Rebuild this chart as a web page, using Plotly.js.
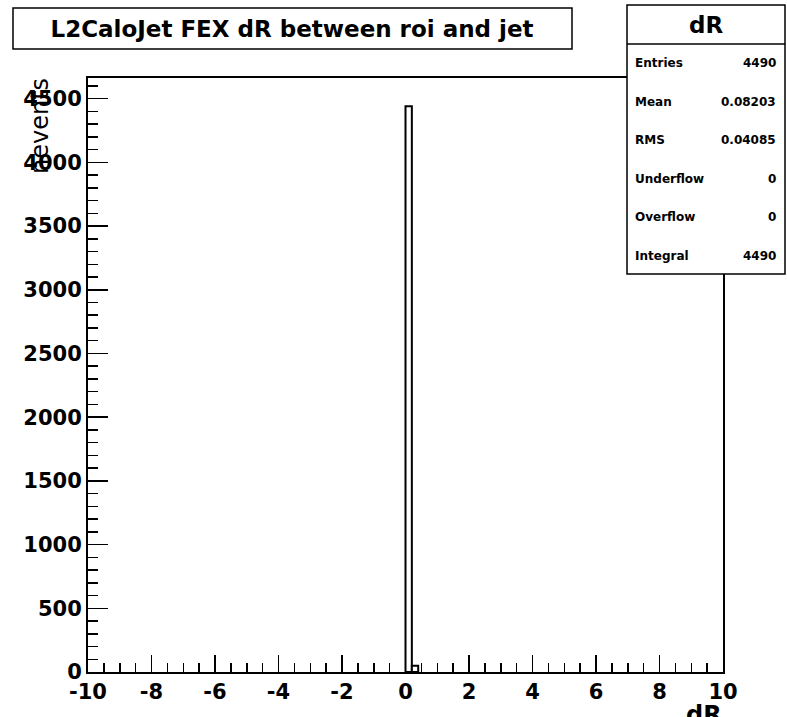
<!DOCTYPE html>
<html>
<head>
<meta charset="utf-8">
<script src="https://cdn.plot.ly/plotly-3.0.1.min.js"></script>
<style>html,body{margin:0;padding:0;background:#fff;}</style>
</head>
<body>
<div id="chart" style="width:787px;height:717px;"></div>
<script>
// ---- data ----
const binCenters = [0.1, 0.3];
const counts = [4440, 50];
const binWidth = 0.2;
const xTickVals = [-10, -8, -6, -4, -2, 0, 2, 4, 6, 8, 10];
const xTickText = ["-10", "-8", "-6", "-4", "-2", "0", "2", "4", "6", "8", "10"];
const histName = "dR";
const chartTitle = "L2CaloJet FEX dR between roi and jet";
const xTitle = "dR";
const yTitle = "nevents";
const statLabels = ["Entries", "Mean", "RMS", "Underflow", "Overflow", "Integral"];
const statValues = ["4490", "0.08203", "0.04085", "0", "0", "4490"];

// ---- geometry helpers (pixel -> paper) ----
const W = 787, H = 717;
const L = 88, R = 723, T = 78, B = 672;
const pw = R - L, ph = B - T;
const px = v => (v - L) / pw;
const py = v => (B - v) / ph;

const bold = {family: "DejaVu Sans", weight: "bold", color: "#000"};

const trace = {
  type: "bar",
  x: binCenters,
  y: counts,
  width: binWidth,
  marker: {color: "#fff", line: {color: "#000", width: 2}},
  hoverinfo: "skip"
};

const annotations = [];
// stats header
annotations.push({xref: "paper", yref: "paper", x: px(706), y: py(25), text: histName,
  showarrow: false, xanchor: "center", yanchor: "middle",
  font: Object.assign({}, bold, {size: 23})});
statLabels.forEach((lab, i) => {
  const yy = 63 + i * 38.6;
  annotations.push({xref: "paper", yref: "paper", x: px(633), y: py(yy), text: lab,
    showarrow: false, xanchor: "left", yanchor: "middle",
    font: Object.assign({}, bold, {size: 12})});
  annotations.push({xref: "paper", yref: "paper", x: px(778), y: py(yy), text: statValues[i],
    showarrow: false, xanchor: "right", yanchor: "middle",
    font: Object.assign({}, bold, {size: 12})});
});
// y title
annotations.push({xref: "paper", yref: "paper", x: px(40), y: py(76), text: yTitle,
  textangle: -90, showarrow: false, xanchor: "center", yanchor: "top",
  font: {family: "DejaVu Sans", size: 24, color: "#000"}});
// x title
annotations.push({xref: "paper", yref: "paper", x: px(724), y: py(699), text: xTitle,
  showarrow: false, xanchor: "right", yanchor: "top",
  font: Object.assign({}, bold, {size: 24})});

const shapes = [
  {type: "rect", xref: "paper", yref: "paper", x0: px(13), x1: px(572), y0: py(8), y1: py(49),
   line: {color: "#000", width: 1.5}, fillcolor: "rgba(0,0,0,0)", layer: "above"},
  {type: "rect", xref: "paper", yref: "paper", x0: px(627), x1: px(785), y0: py(5), y1: py(274),
   line: {color: "#000", width: 1.5}, fillcolor: "#fff", layer: "above"},
  {type: "line", xref: "paper", yref: "paper", x0: px(627), x1: px(785), y0: py(44), y1: py(44),
   line: {color: "#000", width: 1.5}, layer: "above"}
];

const axisCommon = {
  showline: true, linewidth: 2, linecolor: "#000", mirror: true,
  showgrid: false, zeroline: false,
  ticks: "inside", tickcolor: "#000", tickwidth: 1.5,
  tickfont: Object.assign({}, bold, {size: 21}),
  fixedrange: true
};

const layout = {
  width: W, height: H,
  margin: {l: L, r: W - R, t: T, b: H - B, pad: 0},
  paper_bgcolor: "#fff", plot_bgcolor: "#fff",
  showlegend: false,
  bargap: 0,
  title: {text: chartTitle, x: 292 / W, xref: "container", xanchor: "center",
          y: 1 - 29 / H, yref: "container", yanchor: "middle",
          font: Object.assign({}, bold, {size: 23})},
  xaxis: Object.assign({}, axisCommon, {
    range: [-10, 10], tickmode: "array", tickvals: xTickVals, ticktext: xTickText, ticklen: 17,
    minor: {tickmode: "linear", tick0: -10, dtick: 0.5, ticks: "inside", ticklen: 9, tickwidth: 1.5, tickcolor: "#000", showgrid: false}
  }),
  yaxis: Object.assign({}, axisCommon, {
    range: [0, 4662], tickmode: "linear", tick0: 0, dtick: 500, ticklen: 20,
    minor: {dtick: 100, ticks: "inside", ticklen: 10, tickwidth: 1.5, tickcolor: "#000", showgrid: false}
  }),
  annotations: annotations,
  shapes: shapes
};

Plotly.newPlot("chart", [trace], layout, {displayModeBar: false, staticPlot: true});
</script>
</body>
</html>
